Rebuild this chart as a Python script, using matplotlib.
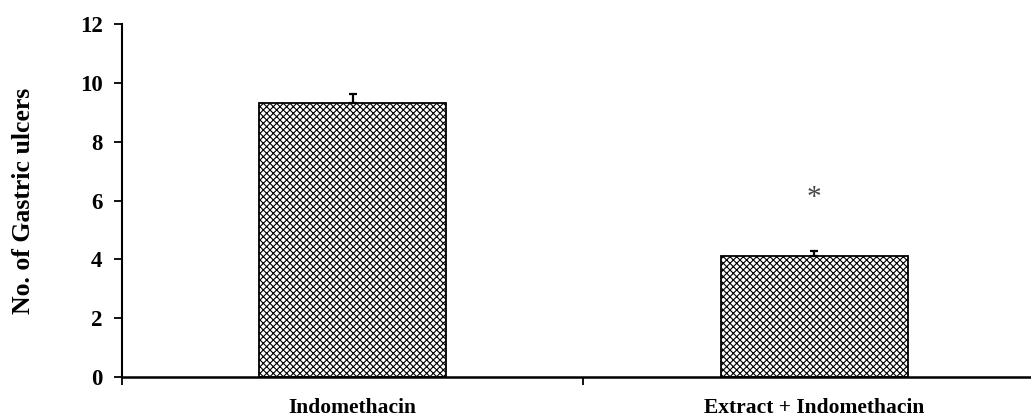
import matplotlib
matplotlib.use("Agg")
import matplotlib.pyplot as plt

groups = ["Indomethacin", "Extract + Indomethacin"]
ulcers = [9.3, 4.1]
sem = [0.32, 0.2]
sig_marks = ["", "*"]
sig_heights = [0, 6.1]
y_ticks = [0, 2, 4, 6, 8, 10, 12]

plt.rcParams['font.family'] = ['Liberation Serif', 'DejaVu Serif']
plt.rcParams['hatch.color'] = '#5a5a5a'
plt.rcParams['hatch.linewidth'] = 0.8

fig = plt.figure(figsize=(10.31, 4.18), dpi=100)
ax = fig.add_axes([0.1183, 0.098, 0.8817, 0.8445])

pos = list(range(len(groups)))
ax.bar(pos, ulcers, width=0.405, color='white', edgecolor='black',
       linewidth=1.3, hatch='xxxxx', zorder=2)
ax.errorbar(pos, ulcers, yerr=[[0, 0], sem], fmt='none', ecolor='black',
            elinewidth=1.6, capsize=3, capthick=1.6, zorder=3)

for p, m, h in zip(pos, sig_marks, sig_heights):
    if m:
        ax.text(p, h, m, ha='center', va='center', fontsize=21, color='#444444')

ax.set_xlim(-0.5, 1.47)
ax.set_ylim(0, 12)
ax.set_yticks(y_ticks)
ax.set_yticklabels([str(t) for t in y_ticks], fontsize=16.5, fontweight='bold')

# category ticks sit between groups, labels under bar centers
ax.set_xticks([-0.5, 0.5])
ax.set_xticklabels(['', ''])
for p, g in zip(pos, groups):
    ax.text(p, -0.087, g, transform=ax.get_xaxis_transform(), ha='center',
            va='center', fontsize=15.5, fontweight='bold')

ax.set_ylabel("No. of Gastric ulcers", fontsize=18.5, fontweight='bold')
ax.yaxis.set_label_coords(-0.096, 0.5)

for s in ['top', 'right']:
    ax.spines[s].set_visible(False)
ax.spines['left'].set_linewidth(1.5)
ax.spines['bottom'].set_linewidth(1.8)
ax.tick_params(axis='y', direction='out', length=6, width=1.3, pad=8)
ax.tick_params(axis='x', direction='out', length=6, width=1.3)

fig.savefig("out.png", dpi=100)
